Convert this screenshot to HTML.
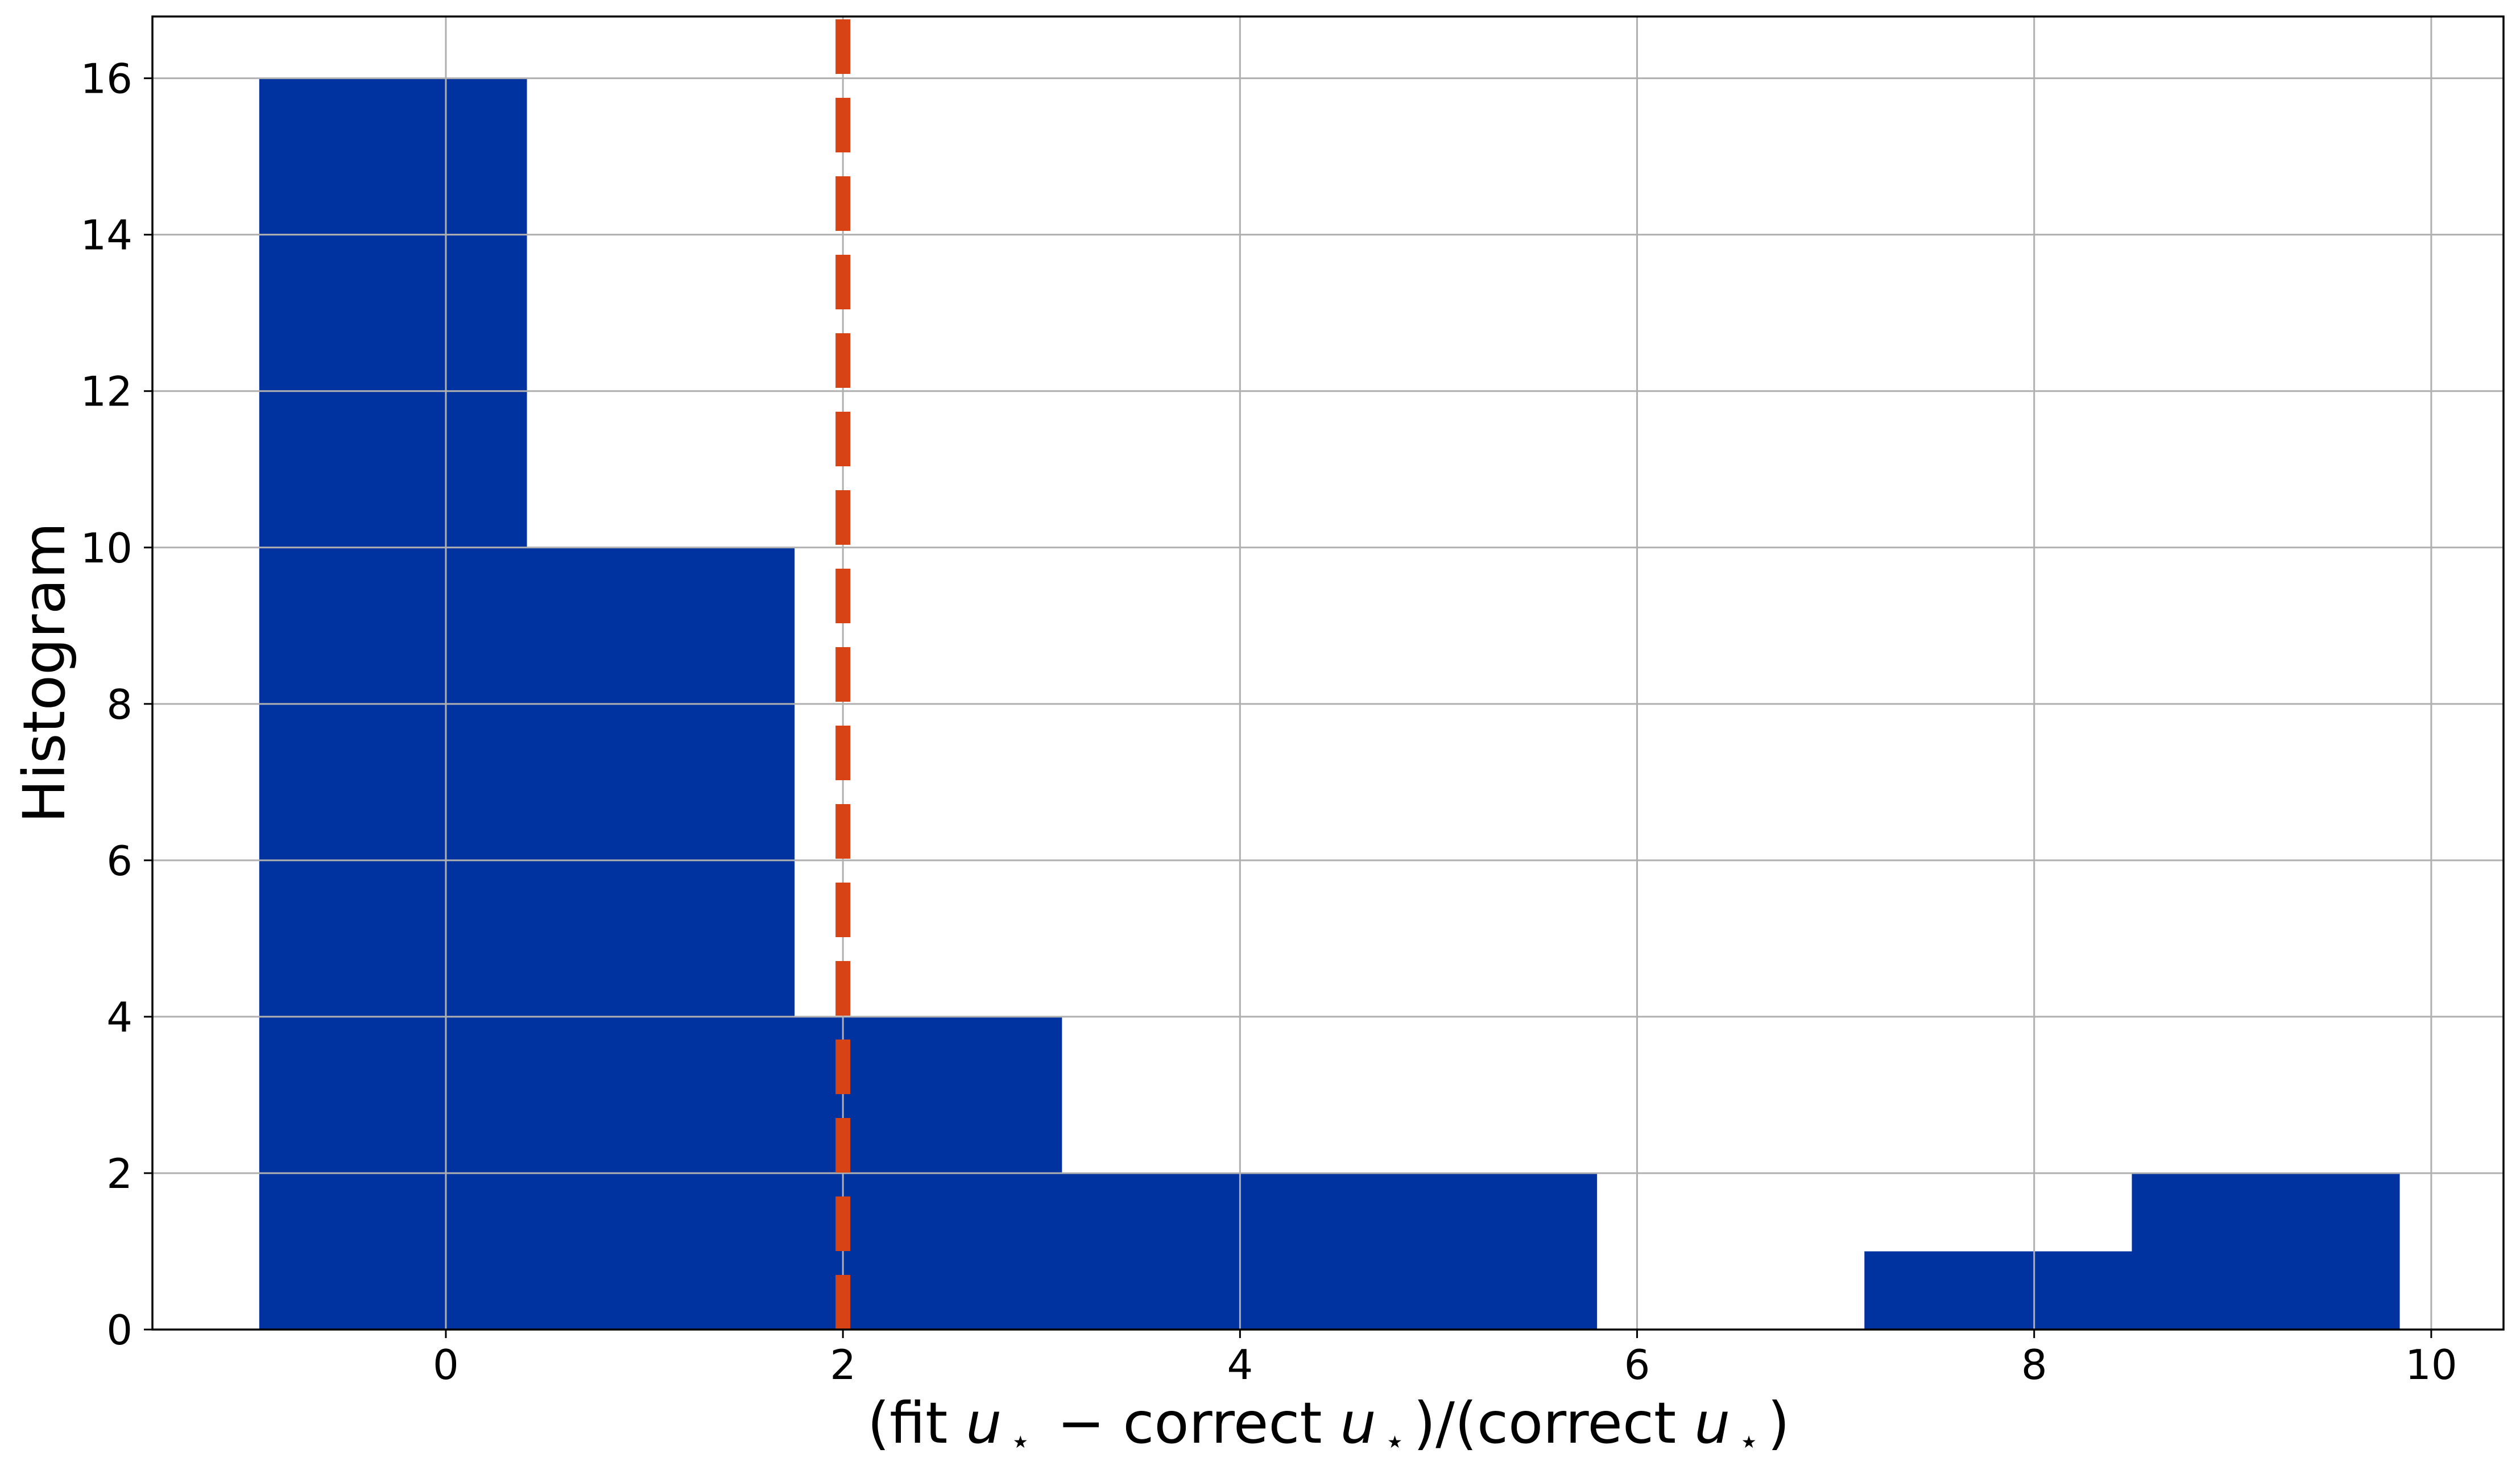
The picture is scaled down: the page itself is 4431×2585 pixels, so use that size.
<!DOCTYPE html>
<html><head><meta charset="utf-8"><style>
html,body{margin:0;padding:0;background:#fff}
svg{display:block}
text{font-family:"DejaVu Sans","Liberation Sans",sans-serif;fill:#000}
</style></head><body>
<svg id="chart" width="4431" height="2585" viewBox="0 0 4431 2585" xmlns="http://www.w3.org/2000/svg">
<rect x="0" y="0" width="4431" height="2585" fill="#fff"/>
<g id="bars"></g>
<g id="grid"></g>
<g id="ref"></g>
<g id="axes"></g>
<text transform="translate(113,1183) rotate(-90)" text-anchor="middle" font-size="102">Histogram</text>
<text x="2336" y="2537" text-anchor="middle" font-size="100">(fit <tspan font-style="italic">u</tspan><tspan font-size="60" dx="14" dy="18">⋆</tspan><tspan dx="14" dy="-18"> − correct </tspan><tspan font-style="italic">u</tspan><tspan font-size="60" dx="14" dy="18">⋆</tspan><tspan dx="14" dy="-18">)/(correct </tspan><tspan font-style="italic">u</tspan><tspan font-size="60" dx="14" dy="18">⋆</tspan><tspan dx="14" dy="-18">)</tspan></text>
</svg>
<script>
const binEdges = [-0.94, 0.407, 1.755, 3.102, 4.45, 5.797, 7.145, 8.492, 9.84];
const counts = [16, 10, 4, 2, 2, 0, 1, 2];
const xTicks = [0, 2, 4, 6, 8, 10];
const yTicks = [0, 2, 4, 6, 8, 10, 12, 14, 16];
const refValue = [2];
const X0=268, X1=4402, Y0=2338, Y1=29;
const xMin=-1.478, xMax=10.364, yMin=0, yMax=16.79;
function xs(v){return X0+(v-xMin)/(xMax-xMin)*(X1-X0);}
function ys(v){return Y0-(v-yMin)/(yMax-yMin)*(Y0-Y1);}
const NS="http://www.w3.org/2000/svg";
function mk(tag,attrs,parent){const e=document.createElementNS(NS,tag);for(const k in attrs)e.setAttribute(k,attrs[k]);parent.appendChild(e);return e;}
const bars=document.getElementById('bars'),grid=document.getElementById('grid'),ref=document.getElementById('ref'),axes=document.getElementById('axes');
counts.forEach((c,i)=>{
  if(c<=0)return;
  const x=xs(binEdges[i]),w=xs(binEdges[i+1])-x,y=ys(c);
  const r=mk('rect',{x:x,y:y,width:w+0.5,height:Y0-y,fill:'#0033a0'},bars);
  
  
});
xTicks.forEach(t=>{
  const x=xs(t);
  const g=mk('line',{x1:x,x2:x,y1:Y1,y2:Y0,stroke:'#b0b0b0','stroke-width':3},grid);
  
  
  const tk=mk('line',{x1:x,x2:x,y1:Y0,y2:Y0+15,stroke:'#000','stroke-width':3},axes);
  
  
  const tx=mk('text',{x:x,y:2425,'text-anchor':'middle','font-size':72},axes);
  tx.textContent=String(t);
  
  
});
yTicks.forEach(t=>{
  const y=ys(t);
  const g=mk('line',{x1:X0,x2:X1,y1:y,y2:y,stroke:'#b0b0b0','stroke-width':3},grid);
  
  
  const tk=mk('line',{x1:X0-15,x2:X0,y1:y,y2:y,stroke:'#000','stroke-width':3},axes);
  
  
  const tx=mk('text',{x:233,y:y+26,'text-anchor':'end','font-size':72},axes);
  tx.textContent=String(t);
  
  
});
refValue.forEach(v=>{
  const x=xs(v);
  const l=mk('line',{x1:x,x2:x,y1:Y0,y2:Y1,stroke:'#d84315','stroke-width':26,'stroke-dasharray':'96 42'},ref);
  
  
});
const sp=mk('rect',{x:X0,y:Y1,width:X1-X0,height:Y0-Y1,fill:'none',stroke:'#000','stroke-width':3.5},axes);


</script>
</body></html>
